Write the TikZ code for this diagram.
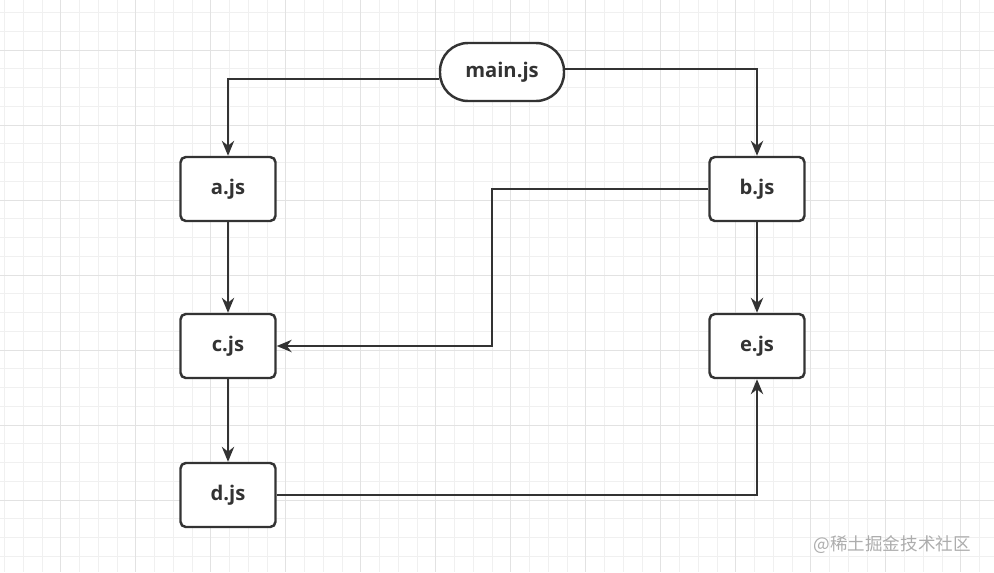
\documentclass[tikz,border=0pt]{standalone}
\usepackage{fontspec}
\setmainfont{Open Sans}
\newfontfamily\cjk{Noto Sans CJK SC}
\usetikzlibrary{arrows.meta}
\definecolor{ink}{HTML}{333333}
\definecolor{gridminor}{HTML}{F0F0F0}
\definecolor{gridmajor}{HTML}{E2E2E2}
\tikzset{
  modbox/.style={draw=ink, line width=1.4pt, rounded corners=3pt, fill=white,
    minimum width=1.9cm, minimum height=1.28cm, font=\fontsize{11.5}{13}\selectfont\bfseries, text=ink},
  entrybox/.style={modbox, rounded corners=0.56cm, minimum width=2.48cm, minimum height=1.16cm},
  conn/.style={draw=ink, line width=1.25pt, -{Stealth[length=8.5pt,width=7pt]}}
}
\begin{document}
\begin{tikzpicture}[x=0.02cm,y=-0.02cm]
  \useasboundingbox (0,0) rectangle (994,572);
  \fill [white] (0,0) rectangle (994,572);
  % grid
  \foreach \i in {0,...,53} {
    \draw [gridminor, line width=0.5pt] (4.45+18.75*\i,0) -- (4.45+18.75*\i,572);
  }
  \foreach \i in {0,...,30} {
    \draw [gridminor, line width=0.5pt] (0,12.5+18.75*\i) -- (994,12.5+18.75*\i);
  }
  \foreach \i in {0,...,12} {
    \draw [gridmajor, line width=0.5pt] (60.7+75*\i,0) -- (60.7+75*\i,572);
  }
  \foreach \i in {0,...,7} {
    \draw [gridmajor, line width=0.5pt] (0,50+75*\i) -- (994,50+75*\i);
  }

  \node [entrybox] (main) at (502,72) {main.js};
  \node [modbox] (a) at (228,189) {a.js};
  \node [modbox] (b) at (757,189) {b.js};
  \node [modbox] (c) at (228,346) {c.js};
  \node [modbox] (e) at (757,346) {e.js};
  \node [modbox] (d) at (228,495) {d.js};
  \coordinate (bend) at (492,189);

  \draw [conn] ([yshift=-0.14cm]main.west) -| (a);
  \draw [conn] ([yshift=0.06cm]main.east) -| (b);
  \draw [conn] (a) -- (c);
  \draw [conn] (c) -- (d);
  \draw [conn] (b) -- (e);
  \draw [conn] (b) -- (bend) |- (c);
  \draw [conn] (d) -| (e);

  \node [text=black!32, font=\cjk\fontsize{10}{12}\selectfont, anchor=east] (mark) at (977,545) {@稀土掘金技术社区};
\end{tikzpicture}
\end{document}
